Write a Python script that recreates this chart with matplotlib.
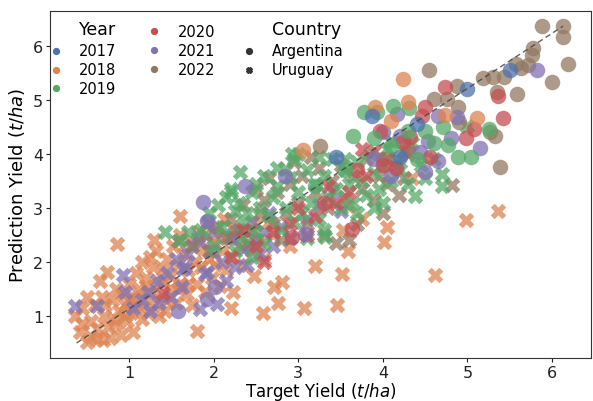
import matplotlib
matplotlib.use("Agg")
import matplotlib.pyplot as plt
import numpy as np

years = ["2017", "2018", "2019", "2020", "2021", "2022"]
countries = ["Argentina", "Uruguay"]
palette = {"2017": "#4C72B0", "2018": "#DD8452", "2019": "#55A868",
           "2020": "#C44E52", "2021": "#8172B3", "2022": "#937860"}
markers = {"Argentina": "o", "Uruguay": "X"}

# ---------------- Uruguay ----------------
uy_2018 = [(0.36,1.0),(0.42,0.7),(0.5,0.52),(0.69,0.56),(0.5,1.35),(0.68,1.35),(0.74,1.81),(0.86,2.33),
 (0.45,0.85),(0.55,0.9),(0.6,1.2),(0.62,0.75),(0.7,1.0),(0.75,0.8),(0.8,1.3),(0.82,0.95),(0.85,1.5),
 (0.88,1.1),(0.9,0.65),(0.92,1.4),(0.95,1.2),(0.98,0.9),(1.0,1.6),(1.02,1.05),(1.05,0.7),(1.05,1.35),
 (1.08,1.8),(1.1,1.15),(1.12,1.5),(1.15,0.95),(1.15,2.0),(1.18,1.3),(1.2,1.7),(1.22,1.05),(1.25,1.45),
 (1.28,1.9),(1.3,1.2),(1.32,2.2),(1.35,1.6),(1.38,1.35),(1.4,1.85),(1.42,1.1),(1.45,2.05),(1.48,1.5),
 (1.5,1.75),(1.52,2.3),(1.55,1.25),(1.58,1.95),(1.6,2.5),(1.62,1.6),(1.65,2.15),(1.68,1.4),(1.7,1.85),
 (1.72,2.4),(1.75,1.2),(1.78,2.0),(1.8,0.72),(1.8,1.6),(1.82,2.55),(1.85,1.9),(1.88,2.25),(1.9,1.45),
 (1.92,2.7),(1.95,2.05),(1.98,1.7),(2.0,2.35),(2.02,1.95),(2.05,2.5),(2.08,1.55),(2.1,2.2),(2.12,2.8),
 (2.15,1.85),(2.18,2.45),(2.2,1.15),(2.22,2.1),(2.23,1.44),(2.25,2.6),(2.3,2.3),(2.35,1.95),(2.4,2.55),
 (2.45,2.2),(2.48,1.74),(2.5,2.7),(2.55,2.4),(2.58,1.06),(2.6,2.05),(2.65,2.75),(2.71,1.54),(2.76,1.24),
 (2.81,1.63),(3.07,1.15),(3.2,1.93),(3.46,1.2),(3.52,1.78),(3.59,2.2),(4.01,2.37),(4.05,2.65),(4.35,3.56),
 (4.62,1.76),(4.98,2.78),(5.36,2.94),(1.6,2.85),(1.3,2.4),(1.25,2.1),(3.59,3.04),(3.75,2.8),(3.53,2.6),
 (2.9,2.3),(2.7,2.5),(0.66,1.65),(0.45,1.15),(0.55,0.62),(0.78,0.6),(0.62,0.57),(0.95,1.0),(1.1,1.25),
 (1.35,1.0),(1.45,1.3),(1.58,1.5),(1.7,1.6),(0.72,1.2),(0.85,0.85),(1.0,1.3),(1.2,1.55),(1.4,1.65)]

uy_2021 = [(0.36,1.18),(0.62,1.18),(0.93,1.76),(1.05,1.15),(1.25,1.09),(1.33,1.65),(1.22,1.44),(1.5,1.35),
 (1.63,1.54),(1.66,1.91),(1.84,1.13),(2.04,1.22),(1.9,1.78),(1.75,2.3),(1.82,2.46),(1.93,2.74),(1.45,1.8),
 (1.55,2.05),(1.7,2.15),(2.1,2.0),(2.2,2.45),(2.3,2.6),(2.35,2.25),(2.45,2.75),(2.5,2.4),(2.6,2.55),
 (2.65,2.9),(2.7,2.3),(2.8,2.65),(2.9,2.45),(2.15,1.65),(2.25,1.9),(1.35,1.25),(1.15,1.3),(0.95,1.45),
 (2.4,1.95),(3.1,2.8),(3.25,3.05),(3.4,3.3),(3.5,2.95),(2.0,2.55),(1.98,2.2),(1.84,2.37),(2.22,2.48),
 (2.43,2.3),(2.55,2.15),(1.92,1.81),(1.64,1.87)]

uy_2022 = [(1.58,2.39),(1.9,2.5),(2.05,2.65),(2.2,2.8),(2.35,3.05),(2.45,2.6),(2.55,2.9),(2.6,3.15),
 (2.7,2.7),(2.75,3.3),(2.85,2.9),(2.9,3.45),(3.0,3.1),(3.05,3.6),(3.1,2.7),(3.2,3.3),(3.25,3.75),
 (3.35,3.0),(3.4,3.5),(3.5,3.8),(3.55,3.2),(3.6,2.4),(3.65,3.6),(3.75,3.35),(3.8,3.9),(3.9,3.15),
 (3.95,3.6),(4.05,3.45),(4.15,3.8),(4.19,3.24),(4.25,3.55),(4.82,3.43),(2.4,2.35),(2.15,2.45),(2.8,2.4),
 (3.3,2.5),(3.45,2.35),(3.7,2.7),(4.0,2.9),(2.95,3.85),(3.15,3.95),(2.65,3.55),(2.5,3.35),(1.75,2.3),
 (1.95,2.2),(2.25,2.55)]

uy_2019 = [(1.43,2.56),(1.95,2.9),(2.05,3.05),(2.15,3.2),(2.2,3.35),(2.25,2.95),(2.3,3.1),(2.35,2.7),
 (2.4,2.9),(2.45,3.3),(2.5,3.45),(2.55,3.0),(2.6,3.6),(2.65,2.85),(2.7,3.2),(2.75,3.4),(2.8,2.6),
 (2.85,3.0),(2.9,3.55),(2.95,2.75),(3.0,3.3),(3.05,2.9),(3.1,3.7),(3.15,3.1),(3.2,3.45),(3.25,2.8),
 (3.3,3.6),(3.35,3.2),(3.4,3.9),(3.45,3.35),(3.5,3.0),(3.55,3.7),(3.6,3.45),(3.65,3.1),(3.7,3.85),
 (3.75,3.5),(3.8,3.25),(3.85,4.0),(3.9,3.65),(3.95,3.35),(4.0,3.8),(4.05,4.1),(4.1,3.5),(4.15,3.9),
 (4.2,3.7),(4.25,4.05),(4.3,3.45),(4.38,3.22),(4.45,3.8),(4.5,3.55),(4.7,3.41),(4.7,3.63),(4.6,3.9),
 (5.0,4.52),(3.1,2.45),(3.3,2.6),(2.6,2.35),(2.35,2.45),(1.85,2.6),(2.0,2.3),(2.1,2.65),(1.7,2.55),
 (1.6,2.4),(3.7,2.9),(3.9,3.0),(4.0,3.1),(2.95,3.9),(3.0,4.0),(2.75,3.75),(3.55,3.9),(3.25,3.95),
 (2.5,2.55),(4.35,4.2),(4.1,4.25),(2.45,2.1),(2.25,2.2),(3.32,2.46),(2.31,3.67),(2.93,4.0),(2.84,3.72),
 (2.2,3.3)]

uy_2020 = [(1.4,1.43),(2.2,2.1),(2.5,2.3),(2.7,2.55),(2.9,2.7),(3.0,3.0),(3.2,2.85),(3.35,3.4),(3.45,3.1),
 (3.6,3.3),(3.8,3.6),(3.9,4.05),(4.05,3.9),(4.3,4.0),(2.6,2.0),(3.1,2.5),(2.35,2.6),(3.75,4.1)]

# ---------------- Argentina ----------------
ar_2017 = [(5.5,5.56),(5.0,5.2),(3.87,4.7),(4.4,4.56),(3.45,3.94),(4.2,3.95)]
ar_2018 = [(4.24,5.39),(4.3,4.96),(5.11,4.67),(3.91,4.87),(4.1,4.61),(4.74,4.72),(3.06,4.07)]
ar_2019 = [(4.31,4.85),(4.12,4.89),(3.78,4.78),(3.93,4.78),(4.71,4.5),(4.77,4.17),(5.04,3.94),(4.89,3.94),
 (5.26,4.46),(4.5,4.43),(3.65,4.33),(4.3,4.42),(4.6,4.2),(4.1,4.15),(3.9,4.3),(4.4,3.9),(3.55,3.7),(3.2,3.4)]
ar_2020 = [(4.74,5.24),(5.36,5.07),(5.42,4.67),(4.5,4.87),(4.98,4.3),(5.08,4.46),(4.46,4.7),(4.32,4.31),
 (4.56,3.94),(4.24,4.22),(3.97,4.43),(3.64,2.61),(2.93,2.46),(3.3,3.1),(4.0,3.8),(3.7,3.7),(4.15,3.75)]
ar_2021 = [(5.82,5.56),(5.15,4.11),(4.88,4.69),(4.65,4.7),(4.53,4.24),(4.44,4.04),(4.65,3.87),(4.5,3.67),
 (4.2,4.33),(4.17,4.74),(4.0,4.4),(4.8,4.3),(2.84,3.59),(2.37,3.41),(1.87,3.11),(1.92,2.76),(3.08,2.52),
 (2.02,1.54),(1.58,1.09),(1.92,1.31),(4.1,3.6),(3.9,3.9)]
ar_2022 = [(5.88,6.37),(6.13,6.37),(6.13,6.17),(5.78,5.96),(5.76,5.83),(6.19,5.67),(6.0,5.33),(5.72,5.65),
 (5.63,5.59),(5.57,5.67),(5.43,5.43),(5.3,5.43),(5.18,5.41),(5.59,5.11),(5.35,5.15),(4.89,4.87),(4.88,5.26),
 (4.76,5.02),(4.6,5.02),(4.55,5.56),(5.39,3.76),(5.33,4.33),(5.27,4.41),(3.26,4.15),(4.9,4.6),(4.3,4.1),(4.0,3.9)]

groups = [("Uruguay","2018",uy_2018),("Uruguay","2021",uy_2021),("Uruguay","2022",uy_2022),
          ("Uruguay","2019",uy_2019),("Uruguay","2020",uy_2020),
          ("Argentina","2022",ar_2022),("Argentina","2021",ar_2021),("Argentina","2020",ar_2020),
          ("Argentina","2019",ar_2019),("Argentina","2018",ar_2018),("Argentina","2017",ar_2017)]

ref_line_x = [0.38, 6.13]
ref_line_y = [0.50, 6.37]

fig = plt.figure(figsize=(5.93, 4.02), dpi=100)
L, R, T, B = 50, 591, 12, 359   # axes box in pixels
W, H = 593, 402
ax = fig.add_axes([L / W, 1 - B / H, (R - L) / W, (B - T) / H])

for country, year, pts in groups:
    arr = np.array(pts)
    ax.scatter(arr[:, 0], arr[:, 1], s=125, marker=markers[country], color=palette[year],
               alpha=0.75, linewidths=0, zorder=2)

ax.plot(ref_line_x, ref_line_y, ls=(0, (4, 2.5)), color="#444444", lw=1.0, alpha=0.85, zorder=3)

ax.set_xlim(0.066, 6.46)
ax.set_ylim(0.222, 6.65)
ax.set_xticks([1, 2, 3, 4, 5, 6])
ax.set_yticks([1, 2, 3, 4, 5, 6])
ax.tick_params(labelsize=11.5, length=3, width=0.8, pad=2, colors="#222222")
for sp in ax.spines.values():
    sp.set_color("#333333"); sp.set_linewidth(0.8)


def fx(px):
    return (px - L) / (R - L)


def fy(py):
    return (B - py) / (B - T)


ax.set_xlabel("Target Yield ($t/ha$)", fontsize=12)
ax.xaxis.set_label_coords(0.5, fy(381))
ax.set_ylabel("Prediction Yield ($t/ha$)", fontsize=13)
ax.yaxis.set_label_coords(fx(27), 0.5)

# ---- legend drawn by hand in axes coordinates ----
ax.text(fx(79), fy(30), "Year", fontsize=12.5, va="center", ha="left", transform=ax.transAxes)
ax.text(fx(272), fy(30), "Country", fontsize=12.5, va="center", ha="left", transform=ax.transAxes)
col1_rows = [51.5, 70.5, 89.3]
col2_rows = [32.3, 51.3, 70.3]
for y, ry in zip(years[:3], col1_rows):
    ax.plot([fx(55.7)], [fy(ry)], marker="o", ms=4.2, color=palette[y], ls="none",
            transform=ax.transAxes, clip_on=False)
    ax.text(fx(79), fy(ry), y, fontsize=10.5, va="center", ha="left", transform=ax.transAxes)
for y, ry in zip(years[3:], col2_rows):
    ax.plot([fx(154)], [fy(ry)], marker="o", ms=4.2, color=palette[y], ls="none",
            transform=ax.transAxes, clip_on=False)
    ax.text(fx(177.7), fy(ry), y, fontsize=10.5, va="center", ha="left", transform=ax.transAxes)
for c, ry in zip(countries, col1_rows[:2]):
    ax.plot([fx(249)], [fy(ry)], marker=markers[c], ms=4.2, color="#333333", ls="none",
            transform=ax.transAxes, clip_on=False)
    ax.text(fx(272), fy(ry), c, fontsize=10.5, va="center", ha="left", transform=ax.transAxes)

fig.savefig("out.png", dpi=100)
